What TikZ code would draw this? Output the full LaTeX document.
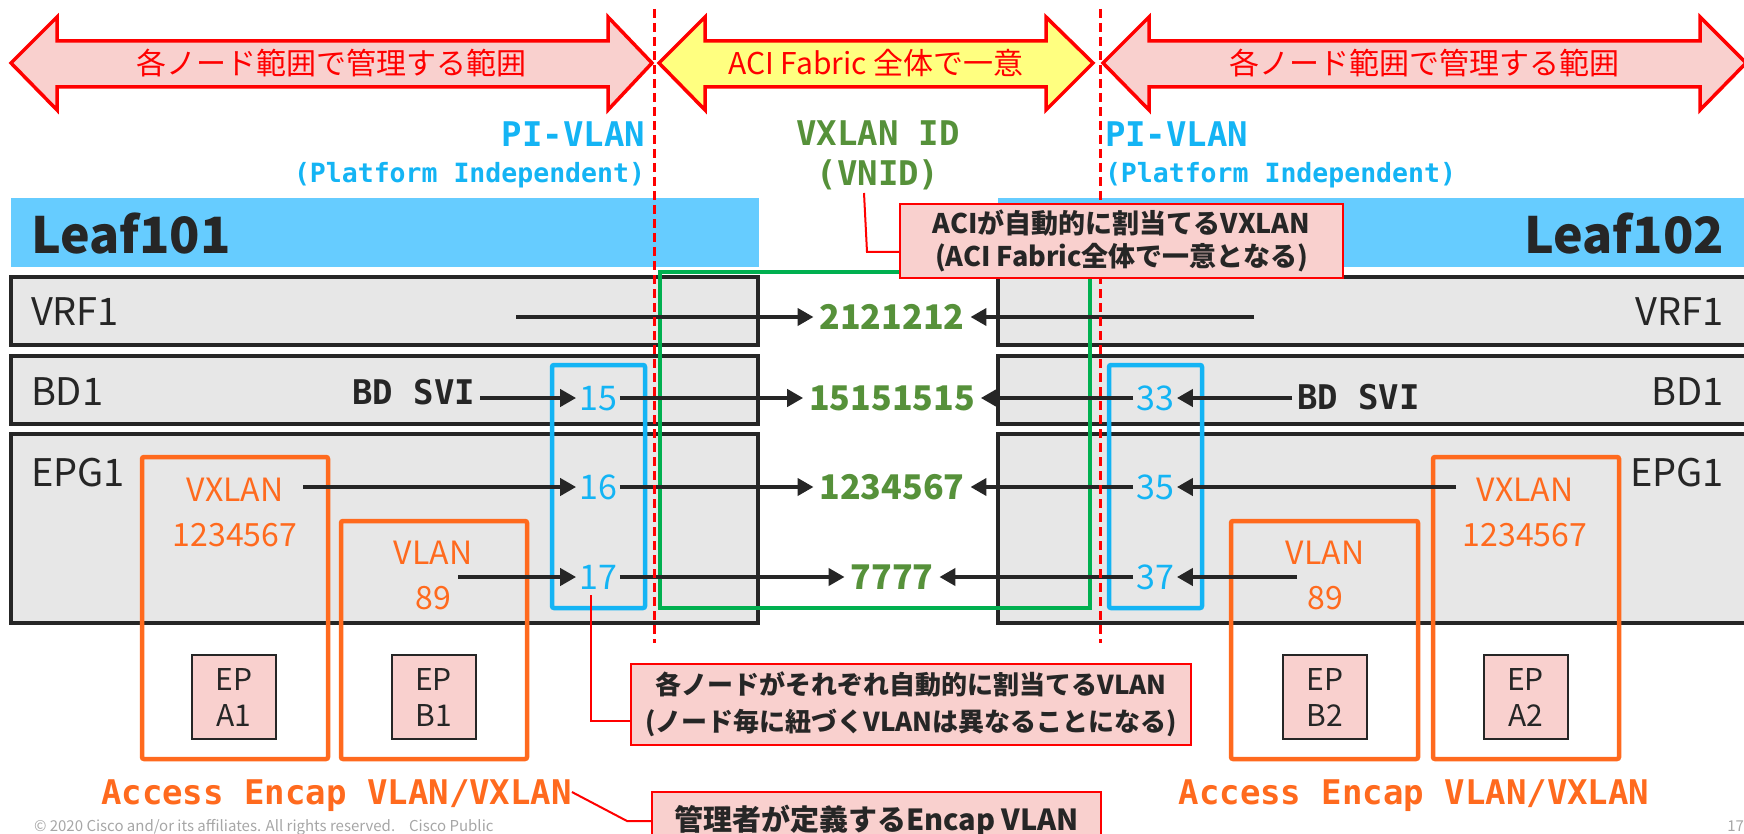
\documentclass[tikz,border=0pt]{standalone}
\usepackage{fontspec}
\setmainfont{Noto Sans CJK JP}
\newfontfamily\monof{DejaVu Sans Mono}
\usetikzlibrary{arrows.meta}
\definecolor{cred}{HTML}{FF0000}
\definecolor{cpink}{HTML}{F9D0CE}
\definecolor{cyel}{HTML}{FFFF80}
\definecolor{ccyan}{HTML}{14B4F4}
\definecolor{cbar}{HTML}{66CCFF}
\definecolor{cgray}{HTML}{E7E7E7}
\definecolor{cdark}{HTML}{262626}
\definecolor{cgtxt}{HTML}{56913A}
\definecolor{cgbox}{HTML}{00B050}
\definecolor{corg}{HTML}{FF6A1E}
\definecolor{cfoot}{HTML}{A6A6A6}
\newcommand\fsz[2]{\fontsize{#1}{#2}\selectfont}
\begin{document}
\begin{tikzpicture}[x=1pt,y=-1pt,
  every node/.style={inner sep=0pt,outer sep=0pt},
  bigarrow/.style={draw=cred,line width=3.5pt,line join=miter},
  toptxt/.style={font=\fsz{30}{36},text=cred,text height=26.4pt,text depth=3.6pt},
  rowbox/.style={draw=cdark,fill=cgray,line width=3.5pt},
  rowlbl/.style={font=\fsz{38}{44},text=cdark,text height=27.9pt,text depth=0pt},
  leaflbl/.style={font=\bfseries\fsz{50}{58},text=cdark,text height=36.6pt,text depth=0pt},
  pibox/.style={draw=ccyan,line width=4.5pt,rounded corners=2pt},
  vxbox/.style={draw=cgbox,line width=4pt},
  encbox/.style={draw=corg,line width=4.5pt,rounded corners=2pt},
  epbox/.style={draw=cdark,fill=cpink,line width=2pt,minimum width=84pt,minimum height=84pt,align=center,font=\fsz{30}{36},text=cdark},
  pinum/.style={font=\fsz{34}{40},text=ccyan,text height=24.9pt,text depth=0pt,inner xsep=3pt},
  vnum/.style={font=\bfseries\fsz{34}{40},text=cgtxt,text height=24.9pt,text depth=0pt,inner xsep=6pt},
  orglbl/.style={font=\fsz{32}{38},text=corg,text height=23.5pt,text depth=0pt},
  monolbl/.style={font=\monof\bfseries\fsz{34}{40},text height=24.8pt,text depth=0pt},
  monosm/.style={font=\monof\bfseries\fsz{26.5}{32},text height=19.3pt,text depth=0pt},
  arr/.style={draw=cdark,line width=4.5pt,-{Triangle[length=16pt,width=17pt]}},
  dashln/.style={draw=cred,line width=3pt,dash pattern=on 9pt off 5pt},
  cbox/.style={draw=cred,fill=cpink,line width=2.5pt,align=center,text=cdark},
  leader/.style={draw=cred,line width=2pt},
]
\useasboundingbox (0,0) rectangle (1744,834);
\clip (0,0) rectangle (1744,834);

% Leaf bars
\fill[cbar] (11,198) rectangle (759,267);
\fill[cbar] (998,198) rectangle (1760,267);
\node[leaflbl,anchor=west] (leafL) at (31,235) {Leaf101};
\node[leaflbl,anchor=east] (leafR) at (1724,235) {Leaf102};

% row boxes
\draw[rowbox] (11,277) rectangle (758,345);
\draw[rowbox] (11,356) rectangle (758,424);
\draw[rowbox] (11,434) rectangle (758,623);
\draw[rowbox] (998,277) rectangle (1770,345);
\draw[rowbox] (998,356) rectangle (1770,424);
\draw[rowbox] (998,434) rectangle (1770,623);

\node[rowlbl,anchor=west] (vrfLl) at (31,312) {VRF1};
\node[rowlbl,anchor=west] (bdLl) at (31,392) {BD1};
\node[rowlbl,anchor=west] (epgLl) at (31,473) {EPG1};
\node[rowlbl,anchor=east] (vrfRl) at (1724,312) {VRF1};
\node[rowlbl,anchor=east] (bdRl) at (1724,392) {BD1};
\node[rowlbl,anchor=east] (epgRl) at (1724,473) {EPG1};

% encap boxes
\draw[encbox] (142,457) rectangle (328,759);
\draw[encbox] (341,521) rectangle (527,759);
\draw[encbox] (1231,521) rectangle (1418,759);
\draw[encbox] (1433,457) rectangle (1619,759);

\node[epbox] (epA1) at (234,697) {EP\\A1};
\node[epbox] (epB1) at (433.5,697) {EP\\B1};
\node[epbox] (epB2) at (1325,697) {EP\\B2};
\node[epbox] (epA2) at (1525.5,697) {EP\\A2};

\node[orglbl] (vxL) at (235,490) {VXLAN};
\node[orglbl] (vxLn) at (235,535) {1234567};
\node[orglbl] (vlL) at (433,553) {VLAN};
\node[orglbl] (vlLn) at (433,598) {89};
\node[orglbl] (vxR) at (1525,490) {VXLAN};
\node[orglbl] (vxRn) at (1525,535) {1234567};
\node[orglbl] (vlR) at (1325,553) {VLAN};
\node[orglbl] (vlRn) at (1325,598) {89};

% PI-VLAN boxes and VXLAN box
\draw[pibox] (552,365) rectangle (645,608);
\draw[pibox] (1109,365) rectangle (1202,608);
\draw[vxbox] (660,272) rectangle (1090,608);

\node[pinum] (n15) at (598,398) {15};
\node[pinum] (n16) at (598,487) {16};
\node[pinum] (n17) at (598,577) {17};
\node[pinum] (n33) at (1155,398) {33};
\node[pinum] (n35) at (1155,487) {35};
\node[pinum] (n37) at (1155,577) {37};

\node[vnum] (g1) at (892,317) {2121212};
\node[vnum] (g2) at (892,398) {15151515};
\node[vnum] (g3) at (892,487) {1234567};
\node[vnum] (g4) at (892,577) {7777};

\node[monolbl,text=cdark,anchor=east,inner xsep=5pt] (svL) at (480,392) {BD SVI};
\node[monolbl,text=cdark,anchor=west,inner xsep=5pt] (svR) at (1292,397) {BD SVI};

% headings
\node[monolbl,text=ccyan,anchor=east] (piL) at (645,134) {PI-VLAN};
\node[monosm,text=ccyan,anchor=east] (piLs) at (645,173) {(Platform Independent)};
\node[monolbl,text=ccyan,anchor=west] (piR) at (1105,134) {PI-VLAN};
\node[monosm,text=ccyan,anchor=west] (piRs) at (1105,173) {(Platform Independent)};
\node[monolbl,text=cgtxt] (vxid) at (878,133) {VXLAN ID};
\node[monolbl,text=cgtxt] (vnid) at (878,173) {(VNID)};

\node[monolbl,text=corg] (acL) at (336.5,792) {Access Encap VLAN/VXLAN};
\node[monolbl,text=corg] (acR) at (1414,792) {Access Encap VLAN/VXLAN};

% arrows
\coordinate (vrfLo) at (516,317);
\coordinate (vrfRo) at (1254,317);
\coordinate (vxLo) at (303,487);
\coordinate (vxRo) at (1456,487);
\coordinate (vlLo) at (458,577);
\coordinate (vlRo) at (1297,577);
\draw[arr] (vrfLo) -- (g1.west);
\draw[arr] (vrfRo) -- (g1.east);
\draw[arr] (svL.east |- n15.west) -- (n15.west);
\draw[arr] (n15.east) -- (g2.west);
\draw[arr] (svR.west |- n33.east) -- (n33.east);
\draw[arr] (n33.west) -- (g2.east);
\draw[arr] (vxLo) -- (n16.west);
\draw[arr] (n16.east) -- (g3.west);
\draw[arr] (vxRo) -- (n35.east);
\draw[arr] (n35.west) -- (g3.east);
\draw[arr] (vlLo) -- (n17.west);
\draw[arr] (n17.east) -- (g4.west);
\draw[arr] (vlRo) -- (n37.east);
\draw[arr] (n37.west) -- (g4.east);

% dashed separators
\draw[dashln] (654,9) -- (654,643);
\draw[dashln] (1100,9) -- (1100,643);

% top range arrows
\draw[bigarrow,fill=cpink] (11,63) -- (57,17) -- (57,41) -- (608,41) -- (608,17) -- (652,63) -- (608,110) -- (608,87) -- (57,87) -- (57,110) -- cycle;
\node[toptxt] (tL) at (331,63) {各ノード範囲で管理する範囲};
\draw[bigarrow,fill=cyel] (659,63) -- (705,17) -- (705,41) -- (1046,41) -- (1046,17) -- (1093,63) -- (1046,110) -- (1046,87) -- (705,87) -- (705,110) -- cycle;
\node[toptxt] (tM) at (876,63) {ACI Fabric 全体で一意};
\draw[bigarrow,fill=cpink] (1103,63) -- (1149,17) -- (1149,41) -- (1700,41) -- (1700,17) -- (1746,63) -- (1700,110) -- (1700,87) -- (1149,87) -- (1149,110) -- cycle;
\node[toptxt] (tR) at (1424,63) {各ノード範囲で管理する範囲};

% callouts
\node[cbox,font=\bfseries\fsz{27}{33},minimum width=443pt,minimum height=74pt] (c1) at (1121.5,241) {ACIが自動的に割当てるVXLAN\\(ACI Fabric全体で一意となる)};
\node[cbox,font=\bfseries\fsz{26}{37},minimum width=560pt,minimum height=81pt] (c2) at (911,704.5) {各ノードがそれぞれ自動的に割当てるVLAN\\(ノード毎に紐づくVLANは異なることになる)};
\node[cbox,font=\bfseries\fsz{29}{35},minimum width=449pt,minimum height=58pt] (c3) at (876.5,821) {管理者が定義するEncap VLAN};

\coordinate (l1a) at (864,193);
\coordinate (l1b) at (867,252);
\draw[leader] (l1a) -- (l1b) -- (c1.west |- l1b);
\coordinate (l2a) at (591,595);
\coordinate (l2b) at (591,721);
\draw[leader] (l2a) -- (l2b) -- (c2.west |- l2b);
\coordinate (l3b) at (627,821);
\draw[leader] (acL.east) -- (l3b) -- (c3.west);

% footer
\node[anchor=base west,font=\fsz{15}{18},text=cfoot] (foot) at (34,831) {© 2020 Cisco and/or its affiliates. All rights reserved.\hspace{14pt}Cisco Public};
\node[anchor=base east,font=\fsz{15}{18},text=cfoot] (pg) at (1744,831) {17};
\end{tikzpicture}
\end{document}
